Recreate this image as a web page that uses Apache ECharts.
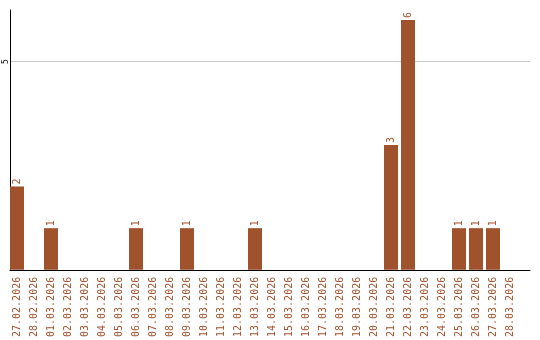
<!DOCTYPE html>
<html>
<head>
<meta charset="utf-8">
<script src="https://cdn.jsdelivr.net/npm/echarts@6/dist/echarts.min.js"></script>
<style>html,body{margin:0;padding:0;background:#fff}#c{width:540px;height:340px}</style>
</head>
<body>
<div id="c"></div>
<script>
var categories = ['27.02.2026','28.02.2026','01.03.2026','02.03.2026','03.03.2026','04.03.2026','05.03.2026','06.03.2026','07.03.2026','08.03.2026','09.03.2026','10.03.2026','11.03.2026','12.03.2026','13.03.2026','14.03.2026','15.03.2026','16.03.2026','17.03.2026','18.03.2026','19.03.2026','20.03.2026','21.03.2026','22.03.2026','23.03.2026','24.03.2026','25.03.2026','26.03.2026','27.03.2026','28.03.2026'];
var values = [2,0,1,0,0,0,0,1,0,0,1,0,0,0,1,0,0,0,0,0,0,0,3,6,0,0,1,1,1,0];
var yTicks = [5];

var color = '#A0522D';
var chart = echarts.init(document.getElementById('c'), null, {renderer: 'canvas'});
chart.setOption({
  animation: false,
  grid: [
    {left: 8.5, top: 10, width: 510, bottom: 70, containLabel: false},
    {left: 10, top: 10, width: 520, bottom: 70, containLabel: false}
  ],
  xAxis: [
    {
      type: 'category', gridIndex: 0, data: categories,
      axisLine: {show: false},
      axisTick: {show: false},
      axisLabel: {rotate: 90, color: color, fontFamily: 'DejaVu Sans Mono', fontSize: 10, margin: 7, interval: 0}
    },
    {
      type: 'value', gridIndex: 1, min: 0, max: 1,
      axisLine: {show: true, onZero: false, lineStyle: {color: '#000', width: 1}},
      axisTick: {show: false}, axisLabel: {show: false}, splitLine: {show: false}
    }
  ],
  yAxis: [
    {
      type: 'value', gridIndex: 0, min: 0, max: 6.24, interval: yTicks[0],
      axisLine: {show: false}, axisTick: {show: false}, axisLabel: {show: false}, splitLine: {show: false}
    },
    {
      type: 'value', gridIndex: 1, min: 0, max: 6.24, interval: yTicks[0],
      axisLine: {show: true, onZero: false, lineStyle: {color: '#000', width: 1}},
      axisTick: {show: false},
      axisLabel: {rotate: 90, color: '#000', fontFamily: 'DejaVu Sans Mono', fontSize: 8, margin: 0, showMinLabel: false, showMaxLabel: false,
        formatter: function (v) { return yTicks.indexOf(v) >= 0 ? String(v) : ''; }},
      splitLine: {show: true, showMinLine: false, showMaxLine: false, lineStyle: {color: '#c8c8c8', width: 1}}
    }
  ],
  series: [{
    type: 'bar', xAxisIndex: 0, yAxisIndex: 0,
    data: values.map(function (v) { return v === 0 ? null : v; }),
    barWidth: 14,
    itemStyle: {color: color},
    label: {
      show: true, position: 'top', rotate: 90, align: 'left', verticalAlign: 'middle', distance: 2,
      color: color, fontFamily: 'DejaVu Sans Mono', fontSize: 10
    }
  }]
});
</script>
</body>
</html>
